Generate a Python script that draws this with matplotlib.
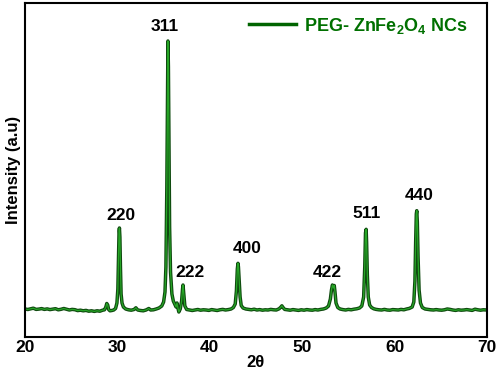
import matplotlib
matplotlib.use('Agg')
from matplotlib import pyplot as plt

plt.rcParams['font.family'] = ['Liberation Sans', 'DejaVu Sans']
plt.rcParams['font.weight'] = 'bold'
plt.rcParams['mathtext.fontset'] = 'custom'
plt.rcParams['mathtext.rm'] = 'Liberation Sans:bold'
plt.rcParams['mathtext.bf'] = 'Liberation Sans:bold'

# XRD pattern (2theta, counts)
two_theta = [
    20.0, 20.3, 20.6, 20.9, 21.2, 21.5, 21.8, 22.1, 22.4, 22.7,
    23.0, 23.3, 23.6, 23.9, 24.2, 24.5, 24.8, 25.1, 25.4, 25.7,
    26.0, 26.3, 26.6, 26.9, 27.2, 27.5, 27.8, 28.1, 28.4, 28.6,
    28.75, 28.85, 28.95, 29.05, 29.2, 29.4, 29.6, 29.8, 29.95,
    30.05, 30.12, 30.18, 30.22, 30.27, 30.33, 30.4, 30.5, 30.65, 30.9,
    31.2, 31.5, 31.8, 32.0, 32.2, 32.5, 32.8, 33.1, 33.4, 33.6,
    33.9, 34.2, 34.5, 34.8, 35.0, 35.15, 35.25, 35.35, 35.42, 35.47,
    35.52, 35.58, 35.65, 35.75, 35.9, 36.05, 36.2, 36.35, 36.45, 36.55,
    36.65, 36.8, 36.95, 37.05, 37.1, 37.18, 37.3, 37.5, 37.8, 38.1,
    38.4, 38.7, 39.0, 39.3, 39.6, 39.9, 40.2, 40.5, 40.8, 41.1,
    41.4, 41.7, 42.0, 42.3, 42.55, 42.75, 42.88, 42.98, 43.05, 43.1,
    43.18, 43.28, 43.4, 43.6, 43.9, 44.2, 44.5, 44.8, 45.1, 45.4,
    45.7, 46.0, 46.3, 46.6, 46.9, 47.2, 47.5, 47.7, 47.8, 47.9,
    48.1, 48.4, 48.7, 49.0, 49.3, 49.6, 49.9, 50.2, 50.5, 50.8,
    51.1, 51.4, 51.7, 52.0, 52.3, 52.6, 52.85, 53.05, 53.17, 53.27,
    53.33, 53.4, 53.47, 53.55, 53.66, 53.85, 54.1, 54.4, 54.7, 55.0,
    55.3, 55.6, 55.9, 56.2, 56.45, 56.65, 56.77, 56.85, 56.92, 56.97,
    57.05, 57.15, 57.3, 57.5, 57.75, 58.0, 58.3, 58.6, 58.9, 59.2,
    59.5, 59.8, 60.1, 60.4, 60.7, 61.0, 61.3, 61.6, 61.9, 62.08,
    62.2, 62.28, 62.35, 62.4, 62.46, 62.54, 62.65, 62.8, 63.0, 63.3,
    63.6, 63.9, 64.2, 64.5, 64.8, 65.1, 65.4, 65.7, 66.0, 66.3,
    66.6, 66.9, 67.2, 67.5, 67.8, 68.1, 68.4, 68.7, 69.0, 69.3,
    69.6, 70.0,
]
intensity = [
    280, 275, 282, 288, 276, 279, 284, 276, 281, 274,
    279, 283, 272, 277, 285, 278, 270, 276, 273, 264,
    268, 262, 266, 258, 262, 256, 262, 258, 268, 272,
    300, 335, 320, 275, 262, 265, 270, 285, 340,
    480, 800, 1060, 1090, 1000, 700, 430, 340, 300, 280,
    272, 268, 275, 292, 270, 265, 262, 270, 285, 270,
    272, 280, 290, 310, 350, 450, 700, 1500, 2400, 2960,
    2700, 1900, 1100, 650, 430, 360, 330, 300, 340, 290,
    250, 280, 360, 480, 520, 440, 310, 275, 270, 265,
    270, 275, 268, 272, 270, 266, 274, 270, 265, 272,
    276, 270, 274, 280, 295, 330, 460, 680, 737, 700,
    560, 400, 315, 290, 280, 276, 272, 278, 270, 274,
    268, 272, 270, 276, 272, 270, 282, 300, 312, 298,
    276, 272, 268, 274, 270, 266, 272, 268, 274, 270,
    268, 274, 270, 276, 280, 290, 310, 380, 470, 520,
    505, 490, 515, 450, 340, 295, 280, 274, 270, 276,
    272, 278, 282, 290, 310, 400, 700, 1040, 1077, 950,
    620, 400, 320, 295, 282, 276, 272, 270, 276, 270,
    268, 274, 272, 270, 276, 272, 280, 286, 300, 350,
    560, 950, 1230, 1263, 1150, 800, 470, 340, 295, 280,
    276, 272, 270, 274, 270, 268, 272, 280, 276, 270,
    266, 272, 268, 270, 274, 270, 266, 278, 272, 268,
    272, 270,
]

hkl = ['220', '311', '222', '400', '422', '511', '440']
hkl_x = [30.36, 35.15, 37.86, 44.0, 52.76, 56.98, 62.64]
hkl_y = [1210, 3100, 640, 880, 643, 1237, 1410]

fig = plt.figure(figsize=(4.98, 3.70), dpi=100)
ax = fig.add_axes([0.0502, 0.0892, 0.9277, 0.9027])

ax.plot(two_theta, intensity, color='#0f4a0f', lw=2.5, label='PEG- ZnFe$_2$O$_4$ NCs',
        solid_joinstyle='round')
ax.plot(two_theta, intensity, color='#26a626', lw=0.9, solid_joinstyle='round')

for lab, x, y in zip(hkl, hkl_x, hkl_y):
    ax.text(x, y, lab, ha='center', va='center', fontsize=12.5, fontweight='bold')

ax.set_xlim(20, 70)
ax.set_ylim(0, 3340)
ax.set_xticks([20, 30, 40, 50, 60, 70])
ax.set_yticks([])
ax.tick_params(axis='x', length=0, pad=2, labelsize=12.5)
for lbl in ax.get_xticklabels():
    lbl.set_fontweight('bold')
for sp in ax.spines.values():
    sp.set_linewidth(1.5)

ax.set_xlabel('2θ', fontsize=12, fontweight='bold', labelpad=0)
ax.set_ylabel('Intensity (a.u)', fontsize=12, fontweight='bold', labelpad=3)

leg = ax.legend(loc='upper right', frameon=False, fontsize=13, handlelength=2.6,
                handletextpad=0.45, borderaxespad=0.3, bbox_to_anchor=(0.985, 1.0))
leg.get_lines()[0].set_color('#006400')
for t in leg.get_texts():
    t.set_color('#007000')
    t.set_fontweight('bold')

fig.savefig('out.png', dpi=100)
